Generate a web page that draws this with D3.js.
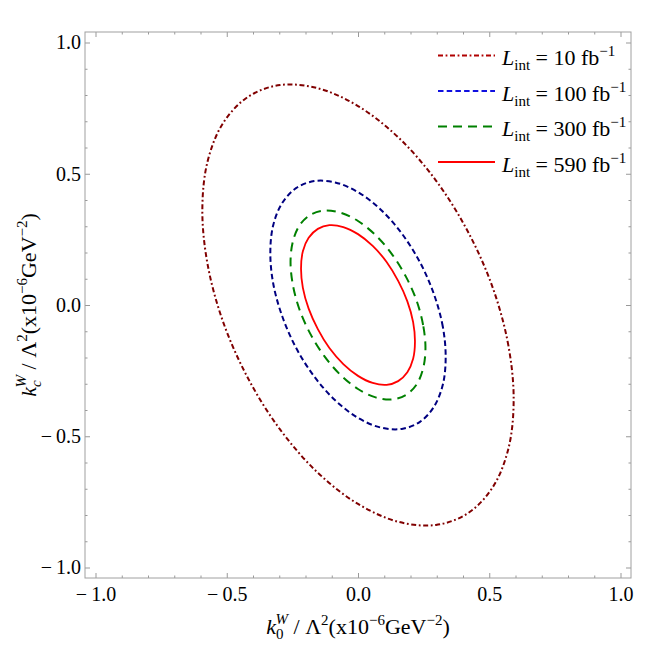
<!DOCTYPE html>
<html>
<head>
<meta charset="utf-8">
<script src="https://cdn.jsdelivr.net/npm/d3@7"></script>
<style>
  body { margin: 0; background: #fff; }
  text { font-family: "Liberation Serif", "DejaVu Serif", serif; }
</style>
</head>
<body>
<svg id="chart" width="664" height="646"></svg>
<script>
// tick values
var majorTicks = [-1.0, -0.5, 0.0, 0.5, 1.0];
var minorTicks = [-0.9, -0.8, -0.7, -0.6, -0.4, -0.3, -0.2, -0.1, 0.1, 0.2, 0.3, 0.4, 0.6, 0.7, 0.8, 0.9];

// integrated luminosities (fb^-1)
var lumis = [10, 100, 300, 590];

// contour points [k0, kc]
var contour10 = [[0.593, -0.363], [0.573, -0.155], [0.514, 0.064], [0.419, 0.279], [0.297, 0.474], [0.154, 0.638],
                 [0, 0.758], [-0.154, 0.826], [-0.297, 0.838], [-0.419, 0.793], [-0.514, 0.693], [-0.573, 0.547],
                 [-0.593, 0.363], [-0.573, 0.155], [-0.514, -0.064], [-0.419, -0.279], [-0.297, -0.474], [-0.154, -0.638],
                 [0, -0.758], [0.154, -0.826], [0.297, -0.838], [0.419, -0.793], [0.514, -0.693], [0.573, -0.547]];
var contour100 = [[0.334, -0.2], [0.323, -0.082], [0.289, 0.042], [0.236, 0.163], [0.167, 0.272], [0.087, 0.363],
                  [0, 0.430], [-0.087, 0.467], [-0.167, 0.472], [-0.236, 0.445], [-0.289, 0.388], [-0.323, 0.304],
                  [-0.334, 0.2], [-0.323, 0.082], [-0.289, -0.042], [-0.236, -0.163], [-0.167, -0.272], [-0.087, -0.363],
                  [0, -0.430], [0.087, -0.467], [0.167, -0.472], [0.236, -0.445], [0.289, -0.388], [0.323, -0.304]];
var contour300 = [[0.257, -0.165], [0.248, -0.076], [0.223, 0.017], [0.182, 0.109], [0.129, 0.194], [0.067, 0.266],
                  [0, 0.320], [-0.067, 0.352], [-0.129, 0.360], [-0.182, 0.343], [-0.223, 0.303], [-0.248, 0.242],
                  [-0.257, 0.165], [-0.248, 0.076], [-0.223, -0.017], [-0.182, -0.109], [-0.129, -0.194], [-0.067, -0.266],
                  [0, -0.320], [0.067, -0.352], [0.129, -0.360], [0.182, -0.343], [0.223, -0.303], [0.248, -0.242]];
var contour590 = [[0.217, -0.14], [0.210, -0.065], [0.188, 0.014], [0.153, 0.092], [0.109, 0.164], [0.056, 0.225],
                  [0, 0.270], [-0.056, 0.297], [-0.109, 0.304], [-0.153, 0.290], [-0.188, 0.256], [-0.210, 0.205],
                  [-0.217, 0.14], [-0.210, 0.065], [-0.188, -0.014], [-0.153, -0.092], [-0.109, -0.164], [-0.056, -0.225],
                  [0, -0.270], [0.056, -0.297], [0.109, -0.304], [0.153, -0.290], [0.188, -0.256], [0.210, -0.205]];

var contours = [contour10, contour100, contour300, contour590];
var colors = ["#800000", "#000080", "#008000", "#ff0000"];
var legendColors = ["#b00000", "#1010e0", "#008000", "#ff0000"];
var dashes = ["5,2.6,1.8,2.6", "5.5,3.2", "9,6", null];

function drawChart() {
    var svg = d3.select("#chart"),
        pLeft = 85, pRight = 631, pTop = 32, pBottom = 578;

    var x = d3.scaleLinear().domain([-1.04, 1.04]).range([pLeft, pRight]);
    var y = d3.scaleLinear().domain([-1.04, 1.04]).range([pBottom, pTop]);

    var fmt = function(d) {
        return d < 0 ? "\u2212\u2009" + Math.abs(d).toFixed(1) : d.toFixed(1);
    };

    // axes, ticks pointing inwards
    function styleAxis(g) {
        g.select(".domain").remove();
        g.selectAll(".tick line").attr("stroke", "#999").attr("stroke-width", 1);
        g.selectAll(".tick text").attr("fill", "#000").style("font-size", "20px")
            .style("font-family", "'Liberation Serif', serif");
    }

    svg.append("g").attr("transform", "translate(0," + pBottom + ")")
        .call(d3.axisBottom(x).tickValues(majorTicks).tickFormat(fmt).tickSize(-5).tickPadding(9))
        .call(styleAxis);
    svg.append("g").attr("transform", "translate(0," + pBottom + ")")
        .call(d3.axisBottom(x).tickValues(minorTicks).tickFormat("").tickSize(-2.5))
        .call(styleAxis);
    svg.append("g").attr("transform", "translate(0," + pTop + ")")
        .call(d3.axisTop(x).tickValues(majorTicks).tickFormat("").tickSize(-5))
        .call(styleAxis);
    svg.append("g").attr("transform", "translate(0," + pTop + ")")
        .call(d3.axisTop(x).tickValues(minorTicks).tickFormat("").tickSize(-2.5))
        .call(styleAxis);

    svg.append("g").attr("transform", "translate(" + pLeft + ",0)")
        .call(d3.axisLeft(y).tickValues(majorTicks).tickFormat(fmt).tickSize(-5).tickPadding(4))
        .call(styleAxis);
    svg.append("g").attr("transform", "translate(" + pLeft + ",0)")
        .call(d3.axisLeft(y).tickValues(minorTicks).tickFormat("").tickSize(-2.5))
        .call(styleAxis);
    svg.append("g").attr("transform", "translate(" + pRight + ",0)")
        .call(d3.axisRight(y).tickValues(majorTicks).tickFormat("").tickSize(-5))
        .call(styleAxis);
    svg.append("g").attr("transform", "translate(" + pRight + ",0)")
        .call(d3.axisRight(y).tickValues(minorTicks).tickFormat("").tickSize(-2.5))
        .call(styleAxis);

    // frame
    svg.append("rect")
        .attr("x", pLeft).attr("y", pTop)
        .attr("width", pRight - pLeft).attr("height", pBottom - pTop)
        .attr("fill", "none").attr("stroke", "#a0a0a0").attr("stroke-width", 1);

    // contours
    var line = d3.line()
        .x(function(d) { return x(d[0]); })
        .y(function(d) { return y(d[1]); })
        .curve(d3.curveCatmullRomClosed.alpha(0.5));

    svg.selectAll(".contour")
        .data(contours)
        .enter().append("path")
        .attr("class", "contour")
        .attr("d", line)
        .attr("fill", "none")
        .attr("stroke", function(d, i) { return colors[i]; })
        .attr("stroke-width", function(d, i) { return i === 3 ? 1.8 : 2; })
        .attr("stroke-dasharray", function(d, i) { return dashes[i]; });

    // legend
    var legend = svg.selectAll(".legend")
        .data(lumis)
        .enter().append("g")
        .attr("class", "legend")
        .attr("transform", function(d, i) { return "translate(0," + (55.5 + i * 35.5) + ")"; });

    legend.append("line")
        .attr("x1", 438).attr("x2", 495)
        .attr("stroke", function(d, i) { return legendColors[i]; })
        .attr("stroke-width", 1.8)
        .attr("stroke-dasharray", function(d, i) { return dashes[i]; });

    var lt = legend.append("text")
        .attr("x", 502).attr("y", 9.5)
        .style("font-size", "22px");
    lt.append("tspan").style("font-style", "italic").text("L");
    lt.append("tspan").attr("dy", 5).style("font-size", "15px").text("int");
    lt.append("tspan").attr("dy", -5).text(function(d) { return " = " + d + " fb"; });
    lt.append("tspan").attr("dy", -9).style("font-size", "15px").text("\u22121");

    // axis titles
    var xt = svg.append("text")
        .attr("x", (pLeft + pRight) / 2).attr("y", 634)
        .attr("text-anchor", "middle")
        .style("font-size", "22px");
    xt.append("tspan").style("font-style", "italic").text("k");
    xt.append("tspan").attr("dy", 5).style("font-size", "15px").text("0");
    xt.append("tspan").attr("dx", -8).attr("dy", -15).style("font-size", "15px").style("font-style", "italic").text("W");
    xt.append("tspan").attr("dy", 10).text(" / \u039b");
    xt.append("tspan").attr("dy", -9).style("font-size", "15px").text("2");
    xt.append("tspan").attr("dy", 9).text("(x10");
    xt.append("tspan").attr("dy", -9).style("font-size", "15px").text("\u22126");
    xt.append("tspan").attr("dy", 9).text("GeV");
    xt.append("tspan").attr("dy", -9).style("font-size", "15px").text("\u22122");
    xt.append("tspan").attr("dy", 9).text(")");

    var yt = svg.append("text")
        .attr("transform", "translate(36," + (pTop + pBottom) / 2 + ") rotate(-90)")
        .attr("text-anchor", "middle")
        .style("font-size", "22px");
    yt.append("tspan").style("font-style", "italic").text("k");
    yt.append("tspan").attr("dy", 5).style("font-size", "15px").style("font-style", "italic").text("c");
    yt.append("tspan").attr("dx", -7).attr("dy", -15).style("font-size", "15px").style("font-style", "italic").text("W");
    yt.append("tspan").attr("dy", 10).text(" / \u039b");
    yt.append("tspan").attr("dy", -9).style("font-size", "15px").text("2");
    yt.append("tspan").attr("dy", 9).text("(x10");
    yt.append("tspan").attr("dy", -9).style("font-size", "15px").text("\u22126");
    yt.append("tspan").attr("dy", 9).text("GeV");
    yt.append("tspan").attr("dy", -9).style("font-size", "15px").text("\u22122");
    yt.append("tspan").attr("dy", 9).text(")");
}

drawChart();
</script>
</body>
</html>
